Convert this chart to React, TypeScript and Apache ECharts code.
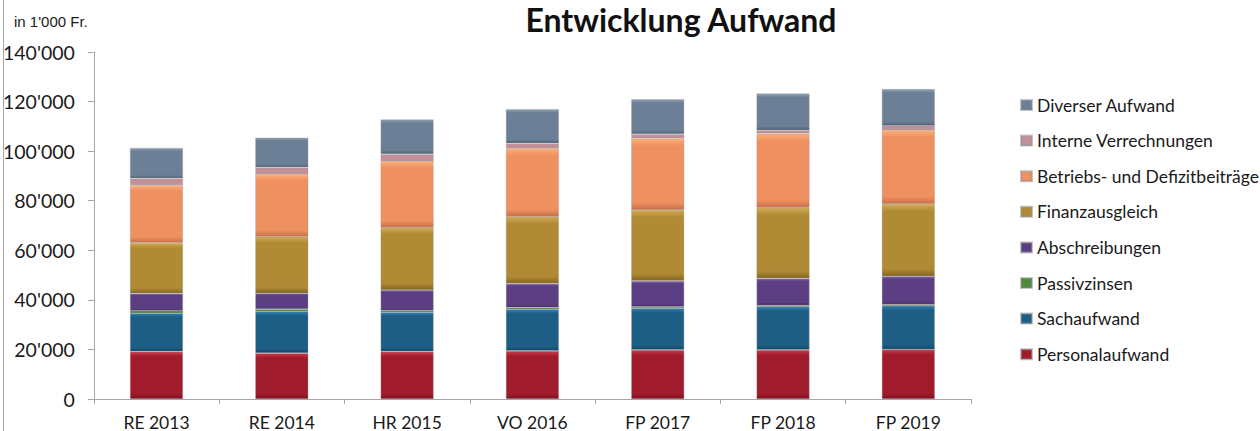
import React, { useEffect, useRef } from "react";
import * as echarts from "echarts";

const categories = ["RE 2013", "RE 2014", "HR 2015", "VO 2016", "FP 2017", "FP 2018", "FP 2019"];
const seriesNames = [
  "Personalaufwand",
  "Sachaufwand",
  "Passivzinsen",
  "Abschreibungen",
  "Finanzausgleich",
  "Betriebs- und Defizitbeiträge",
  "Interne Verrechnungen",
  "Diverser Aufwand",
];
const personalaufwand = [19100, 18500, 19100, 19400, 19800, 19800, 20000];
const sachaufwand = [15500, 16800, 15900, 16800, 16800, 17400, 17600];
const passivzinsen = [1000, 950, 700, 650, 550, 550, 550];
const abschreibungen = [7000, 6400, 8300, 9700, 10500, 10900, 11400];
const finanzausgleich = [20400, 22800, 25100, 27000, 28600, 28500, 29100];
const betriebsbeitraege = [23300, 25300, 26900, 27600, 28900, 30000, 29900];
const interneVerrechnungen = [2700, 2700, 2800, 2000, 1700, 1300, 1700];
const diverserAufwand = [12300, 12000, 14000, 13800, 14100, 14800, 14800];
const yTicks = [0, 20000, 40000, 60000, 80000, 100000, 120000, 140000];

const seriesValues = [
  personalaufwand,
  sachaufwand,
  passivzinsen,
  abschreibungen,
  finanzausgleich,
  betriebsbeitraege,
  interneVerrechnungen,
  diverserAufwand,
];
const lightColors = ["#cf3a4a", "#2f7fb0", "#66a650", "#8465ad", "#d3aa52", "#fbb07a", "#e2b2b9", "#8fa2b6"];
const baseColors = ["#a01c2c", "#1d5e85", "#4e8a3e", "#5b3f82", "#b08a35", "#ef9060", "#c29098", "#6b7f96"];
const darkColors = ["#7e1020", "#124766", "#3a6a2c", "#432b66", "#86661f", "#c8704a", "#9a6a72", "#4f6175"];

const fmt = (v: number) => {
  const s = String(Math.round(v));
  return s.replace(/\B(?=(\d{3})+(?!\d))/g, "'");
};

export default function App() {
  const ref = useRef<HTMLDivElement>(null);
  useEffect(() => {
    if (!ref.current) return;
    const chart = echarts.init(ref.current, null, { renderer: "svg" });
    const font = "Lato, 'Open Sans', sans-serif";
    chart.setOption({
      animation: false,
      backgroundColor: "#ffffff",
      textStyle: { fontFamily: font },
      grid: { left: 88, right: 289, top: 52, bottom: 32, containLabel: false },
      legend: {
        orient: "vertical",
        left: 1020,
        top: 96,
        padding: 0,
        itemWidth: 11,
        itemHeight: 10,
        itemGap: 17.6,
        icon: "rect",
        data: seriesNames.slice().reverse(),
        textStyle: { fontFamily: font, fontSize: 17.5, color: "#1a1a1a", lineHeight: 17.5 },
      },
      xAxis: {
        type: "category",
        data: categories,
        axisLine: { lineStyle: { color: "#a6a6a6", width: 1 } },
        axisTick: { show: true, length: 5, lineStyle: { color: "#a6a6a6" } },
        axisLabel: { color: "#1a1a1a", fontSize: 17.5, lineHeight: 14, margin: 16, fontFamily: font },
      },
      yAxis: {
        type: "value",
        min: 0,
        max: yTicks[yTicks.length - 1],
        interval: yTicks[1] - yTicks[0],
        axisLine: { show: true, lineStyle: { color: "#a6a6a6", width: 1 } },
        axisTick: { show: true, length: 6, lineStyle: { color: "#a6a6a6" } },
        splitLine: { show: false },
        axisLabel: { color: "#1a1a1a", fontSize: 19.5, margin: 19, formatter: fmt, fontFamily: font },
      },
      graphic: [
        {
          type: "line",
          shape: { x1: 3.5, y1: 0, x2: 3.5, y2: 431 },
          style: { stroke: "#a6a6a6", lineWidth: 1 },
        },
        {
          type: "text",
          left: 14,
          top: 14,
          style: { text: "in 1'000 Fr.", fontSize: 15, fill: "#1a1a1a", fontFamily: "'Liberation Sans', Arial, sans-serif" },
        },
        {
          type: "text",
          x: 681,
          y: 3,
          style: {
            text: "Entwicklung Aufwand",
            fontSize: 32,
            fontWeight: "bold",
            fill: "#111111",
            fontFamily: font,
            textAlign: "center",
            textVerticalAlign: "top",
          },
        },
      ],
      series: seriesNames.map((name, i) => ({
        name,
        type: "bar",
        stack: "total",
        barWidth: 53,
        data: seriesValues[i],
        color: baseColors[i],
        itemStyle: {
          color: new echarts.graphic.LinearGradient(0, 0, 0, 1, [
            { offset: 0, color: lightColors[i] },
            { offset: 0.1, color: baseColors[i] },
            { offset: 0.9, color: baseColors[i] },
            { offset: 1, color: darkColors[i] },
          ]),
          borderColor: "rgba(150,150,150,0.55)",
          borderWidth: 0.6,
        },
      })),
    });
    return () => chart.dispose();
  }, []);
  return (
    <div
      ref={ref}
      style={{ position: "fixed", left: 0, top: 0, width: 1260, height: 431 }}
    />
  );
}
